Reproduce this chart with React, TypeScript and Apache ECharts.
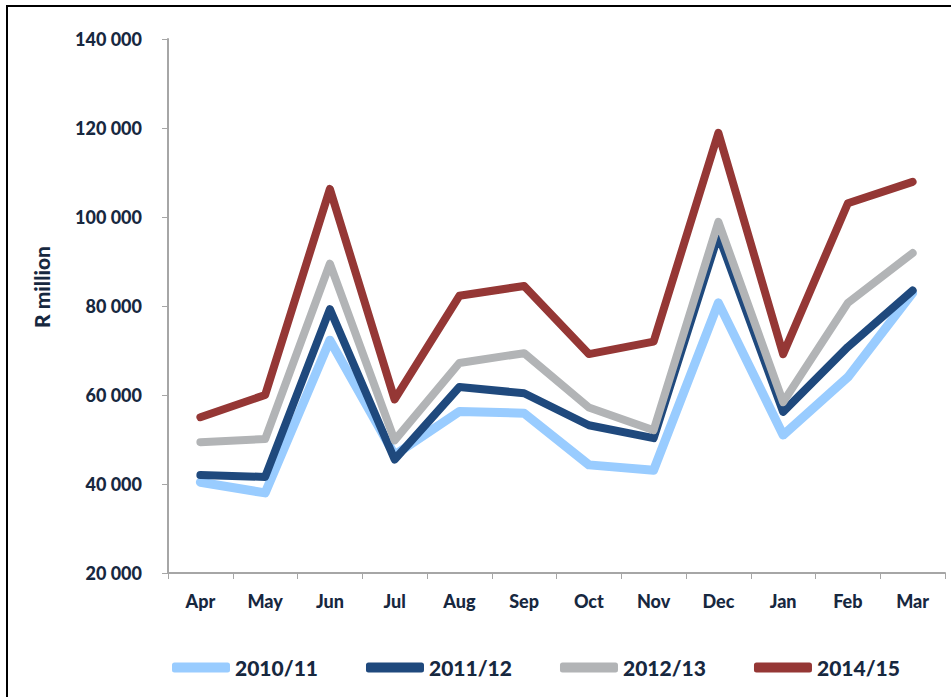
import React, { useEffect, useRef } from "react";
import * as echarts from "echarts";

const months = ["Apr", "May", "Jun", "Jul", "Aug", "Sep", "Oct", "Nov", "Dec", "Jan", "Feb", "Mar"];
const s2010 = [40400, 38000, 72300, 46500, 56300, 55900, 44300, 43100, 80700, 51000, 64000, 82900];
const s2011 = [42000, 41600, 79300, 45500, 61800, 60400, 53200, 50300, 96000, 56200, 70800, 83500];
const s2012 = [49400, 50100, 89500, 49800, 67200, 69400, 57200, 52100, 98900, 58400, 80700, 91900];
const s2014 = [55000, 60000, 106300, 59000, 82300, 84500, 69200, 72000, 118900, 69200, 103100, 107900];
const seriesNames = ["2010/11", "2011/12", "2012/13", "2014/15"];
const colors = ["#99CCFF", "#1F497D", "#B2B4B6", "#953735"];
const yTitle = "R million";

const TEXT = "#17283F";
const FONT = "Lato";
const WEIGHT = 900;

export default function App() {
  const ref = useRef<HTMLDivElement>(null);
  useEffect(() => {
    if (!ref.current) return;
    const chart = echarts.init(ref.current, null, { renderer: "svg" });
    const data = [s2010, s2011, s2012, s2014];
    chart.setOption({
      animation: false,
      backgroundColor: "#ffffff",
      grid: { left: 168, right: 6, top: 39, bottom: 124, containLabel: false },
      legend: {
        left: 167,
        top: 652,
        itemWidth: 58,
        itemHeight: 10,
        itemGap: 48,
        icon: "roundRect",
        data: seriesNames,
        textStyle: { color: TEXT, fontFamily: FONT, fontWeight: WEIGHT, fontSize: 21 },
      },
      xAxis: {
        type: "category",
        data: months,
        boundaryGap: true,
        axisLine: { lineStyle: { color: "#A6A6A6", width: 2 } },
        axisTick: { show: true, length: 6, lineStyle: { color: "#A6A6A6", width: 1 } },
        axisLabel: { color: TEXT, fontFamily: FONT, fontWeight: WEIGHT, fontSize: 18, margin: 19 },
      },
      yAxis: {
        type: "value",
        min: 20000,
        max: 140000,
        interval: 20000,
        axisLine: { show: true, lineStyle: { color: "#A6A6A6", width: 2 } },
        axisTick: { show: true, length: 6, lineStyle: { color: "#A6A6A6", width: 1 } },
        splitLine: { show: false },
        axisLabel: {
          color: TEXT,
          fontFamily: FONT,
          fontWeight: WEIGHT,
          fontSize: 18,
          margin: 26,
          formatter: (v: number) => {
            const s = String(v);
            return s.slice(0, s.length - 3) + " " + s.slice(s.length - 3);
          },
        },
      },
      graphic: [
        {
          type: "rect",
          shape: { x: 7, y: 6, width: 960, height: 720 },
          style: { fill: "none", stroke: "#000000", lineWidth: 2 },
          silent: true,
        },
        {
          type: "text",
          x: 41,
          y: 287,
          rotation: Math.PI / 2,
          style: {
            text: yTitle,
            fill: TEXT,
            font: `${WEIGHT} 21px ${FONT}`,
            align: "center",
            verticalAlign: "middle",
          },
          silent: true,
        },
      ],
      series: data.map((d, i) => ({
        name: seriesNames[i],
        type: "line",
        data: d,
        symbol: "none",
        z: 2 + i,
        lineStyle: { color: colors[i], width: i === 0 ? 9 : 8, cap: "round", join: "round" },
        itemStyle: { color: colors[i] },
      })),
    });
    return () => chart.dispose();
  }, []);
  return (
    <div
      ref={ref}
      style={{ position: "absolute", left: 0, top: 0, width: 951, height: 697 }}
    />
  );
}
